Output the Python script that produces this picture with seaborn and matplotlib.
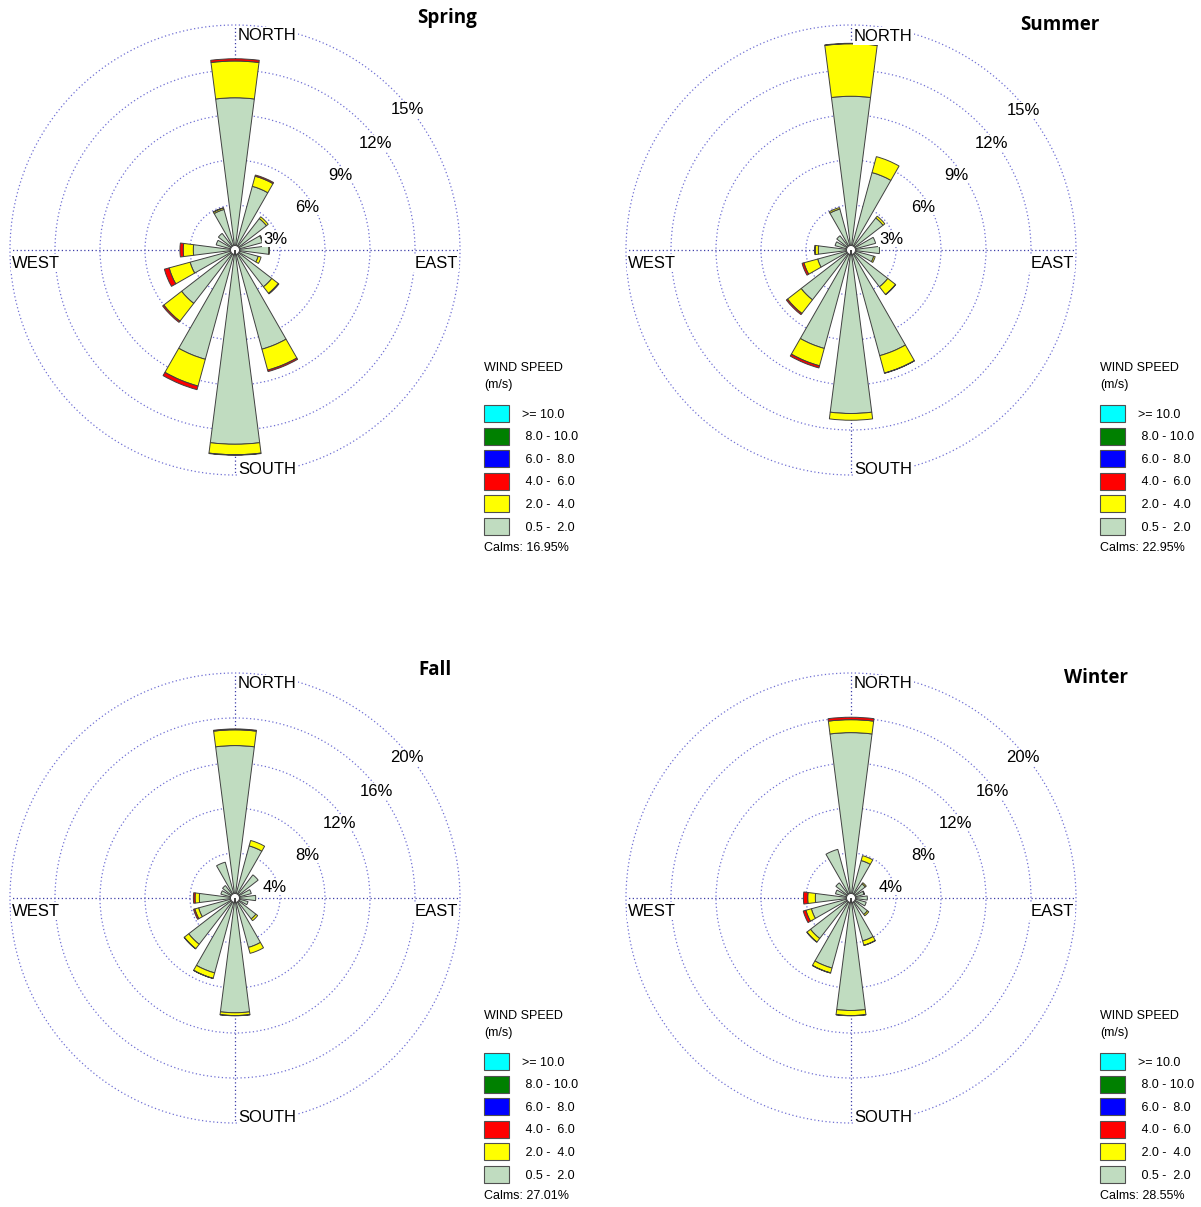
import numpy as np
import matplotlib.pyplot as plt
import seaborn as sns
from matplotlib.patches import Patch

# 16 compass sectors, clockwise from north
directions = ['N', 'NNE', 'NE', 'ENE', 'E', 'ESE', 'SE', 'SSE',
              'S', 'SSW', 'SW', 'WSW', 'W', 'WNW', 'NW', 'NNW']
speed_classes = ['>= 10.0', ' 8.0 - 10.0', ' 6.0 -  8.0', ' 4.0 -  6.0', ' 2.0 -  4.0', ' 0.5 -  2.0']
class_colors = ['#00FFFF', '#008000', '#0000FF', '#FF0000', '#FFFF00', '#C0DCC0']

seasons = ['Spring', 'Summer', 'Fall', 'Winter']
calms = [16.95, 22.95, 27.01, 28.55]
ring_ticks = [[3, 6, 9, 12, 15], [3, 6, 9, 12, 15], [4, 8, 12, 16, 20], [4, 8, 12, 16, 20]]

# frequency (%) per direction, by speed class
spring_05_2 = [10.15, 4.4, 2.65, 1.9, 2.25, 1.6, 3.1, 6.85, 12.95, 7.55, 4.5, 3.1, 2.78, 1.3, 1.4, 2.8]
spring_2_4 = [2.45, 0.7, 0.15, 0.05, 0.05, 0.2, 0.55, 1.45, 0.7, 1.85, 1.5, 1.45, 0.67, 0.0, 0.0, 0.1]
spring_4_6 = [0.15, 0.08, 0.0, 0.0, 0.0, 0.0, 0.05, 0.1, 0.03, 0.25, 0.1, 0.33, 0.22, 0.0, 0.0, 0.02]

summer_05_2 = [10.25, 5.35, 2.7, 1.7, 1.9, 1.57, 3.1, 7.3, 10.9, 6.8, 4.2, 2.3, 2.18, 1.1, 1.2, 2.83]
summer_2_4 = [3.5, 1.1, 0.15, 0.0, 0.0, 0.1, 0.65, 1.2, 0.45, 1.2, 1.15, 0.95, 0.2, 0.0, 0.0, 0.1]
summer_4_6 = [0.03, 0.0, 0.0, 0.0, 0.0, 0.0, 0.02, 0.02, 0.0, 0.15, 0.1, 0.13, 0.05, 0.0, 0.0, 0.0]

fall_05_2 = [13.55, 4.8, 2.6, 1.5, 1.84, 1.2, 2.35, 4.55, 10.2, 6.9, 5.2, 3.35, 3.17, 1.3, 1.4, 3.3]
fall_2_4 = [1.4, 0.5, 0.0, 0.0, 0.0, 0.0, 0.2, 0.55, 0.25, 0.5, 0.5, 0.35, 0.38, 0.0, 0.0, 0.0]
fall_4_6 = [0.08, 0.0, 0.0, 0.0, 0.0, 0.0, 0.0, 0.0, 0.02, 0.02, 0.02, 0.12, 0.15, 0.0, 0.0, 0.0]

winter_05_2 = [14.7, 3.45, 1.6, 1.2, 1.45, 1.4, 1.85, 3.95, 10.0, 6.45, 4.55, 3.65, 3.17, 1.43, 1.7, 4.48]
winter_2_4 = [1.15, 0.45, 0.12, 0.05, 0.0, 0.0, 0.15, 0.4, 0.45, 0.45, 0.4, 0.5, 0.68, 0.0, 0.0, 0.0]
winter_4_6 = [0.22, 0.0, 0.0, 0.0, 0.0, 0.0, 0.0, 0.02, 0.02, 0.02, 0.02, 0.25, 0.38, 0.0, 0.0, 0.0]

season_data = [
    [spring_05_2, spring_2_4, spring_4_6],
    [summer_05_2, summer_2_4, summer_4_6],
    [fall_05_2, fall_2_4, fall_4_6],
    [winter_05_2, winter_2_4, winter_4_6],
]

sns.set_theme(style='white', rc={'text.color': 'black'})
palette = sns.color_palette(class_colors)
stack_colors = [palette[5], palette[4], palette[3]]

W, H = 1201, 1207
R = 225
centers = [(235, 250), (851, 250), (235, 898), (851, 898)]
title_pos = [(447, 18), (1060, 25), (435, 670), (1096, 678)]
ring_label_offs = [(40, 11), (72, 43), (105, 75), (141, 107), (172, 140)]

grid_col = '#7070d4'
axis_col = '#3e3ea8'
dots = (0, (1, 2))
lab_font = 'Liberation Sans'

fig = plt.figure(figsize=(W / 100, H / 100), dpi=100)

theta = np.deg2rad(np.arange(len(directions)) * 22.5)
wedge = np.deg2rad(14.6)

for i, season in enumerate(seasons):
    cx, cy = centers[i]
    ticks = ring_ticks[i]
    rmax = ticks[-1]
    ax = fig.add_axes([(cx - R) / W, 1 - (cy + R) / H, 2 * R / W, 2 * R / H], projection='polar')
    ax.set_theta_zero_location('N')
    ax.set_theta_direction(-1)
    ax.set_ylim(0, rmax)
    ax.set_yticks(ticks)
    ax.set_yticklabels([])
    ax.set_xticks(np.deg2rad([0, 90, 180, 270]))
    ax.set_xticklabels([])
    ax.yaxis.grid(True, color=grid_col, linestyle=dots, linewidth=0.9)
    ax.xaxis.grid(True, color=axis_col, linestyle=dots, linewidth=0.9)
    ax.spines['polar'].set_visible(False)
    ax.set_axisbelow(True)
    for gl in ax.yaxis.get_gridlines():
        gl.set_clip_on(False)

    bottom = np.zeros(len(directions))
    for vals, col in zip(season_data[i], stack_colors):
        vals = np.asarray(vals, dtype=float)
        m = vals > 0
        ax.bar(theta[m], vals[m], width=wedge, bottom=bottom[m], color=col,
               edgecolor='#404040', linewidth=0.7, zorder=3)
        bottom += vals

    # calm circle in the middle
    ax.bar(0, rmax * 4.5 / R, width=2 * np.pi, bottom=0, color='white',
           edgecolor='#404040', linewidth=0.7, zorder=4)

    box = dict(facecolor='white', edgecolor='none', pad=1)
    ax.text(0.5 + 3 / 450, 0.5 + 214 / 450, 'NORTH', transform=ax.transAxes, ha='left', va='center',
            fontsize=12, family=lab_font, bbox=box, zorder=6)
    ax.text(0.5 + 3 / 450, 0.5 - 219 / 450, 'SOUTH', transform=ax.transAxes, ha='left', va='center',
            fontsize=12, family=lab_font, bbox=box, zorder=6)
    ax.text(0.5 - 223 / 450, 0.5 - 13 / 450, 'WEST', transform=ax.transAxes, ha='left', va='center',
            fontsize=12, family=lab_font, bbox=box, zorder=6)
    ax.text(0.5 + 223 / 450, 0.5 - 13 / 450, 'EAST', transform=ax.transAxes, ha='right', va='center',
            fontsize=12, family=lab_font, bbox=box, zorder=6)
    for t, (dx, dy) in zip(ticks, ring_label_offs):
        ax.text(0.5 + dx / 450, 0.5 + dy / 450, f'{t}%', transform=ax.transAxes, ha='center', va='center',
                fontsize=12, family=lab_font, bbox=dict(facecolor='white', edgecolor='none', pad=0.5), zorder=6)

    tx, ty = title_pos[i]
    fig.text(tx / W, 1 - ty / H, season, ha='center', va='center', fontsize=13.5,
             family='Open Sans', fontweight='bold')

    # legend block to the lower right of each rose
    lx = 484 + (616 if i % 2 else 0)
    ly = 648 if i >= 2 else 0
    fig.text(lx / W, 1 - (368 + ly) / H, 'WIND SPEED', ha='left', va='center', fontsize=9, family=lab_font)
    fig.text(lx / W, 1 - (385 + ly) / H, '(m/s)', ha='left', va='center', fontsize=9, family=lab_font)
    handles = [Patch(facecolor=c, edgecolor='#505050', linewidth=0.8) for c in palette]
    ax.legend(handles, speed_classes, loc='upper left', bbox_to_anchor=(lx / W, 1 - (405 + ly) / H),
              bbox_transform=fig.transFigure, frameon=False, prop={'family': lab_font, 'size': 9},
              handlelength=2.0, handleheight=1.715, labelspacing=0.45, handletextpad=1.0,
              borderpad=0, borderaxespad=0)
    fig.text(lx / W, 1 - (548 + ly) / H, f'Calms: {calms[i]:.2f}%', ha='left', va='center',
             fontsize=9, family=lab_font)

fig.savefig('out.png', dpi=100)
